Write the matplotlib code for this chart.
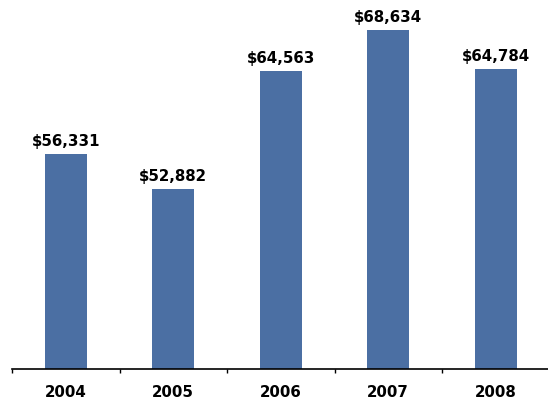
import matplotlib
matplotlib.use("Agg")
import matplotlib.pyplot as plt
import numpy as np

years = ["2004", "2005", "2006", "2007", "2008"]
values = [56331, 52882, 64563, 68634, 64784]

fig = plt.figure(figsize=(5.48, 4.02), dpi=100)
ax = fig.add_axes([12 / 548, 32 / 402, 537.5 / 548, 370 / 402])

x = np.arange(len(years))
bars = ax.bar(x, values, width=0.39, color="#4b6fa3", zorder=2)

for b, v in zip(bars, values):
    ax.annotate(f"${v:,}", (b.get_x() + b.get_width() / 2, v),
                xytext=(0, 4), textcoords="offset points",
                ha="center", va="bottom", fontsize=10.8, fontweight="bold",
                color="black", annotation_clip=False)

ax.set_xlim(-0.5, len(years) - 0.5)
ax.set_ylim(35000, 35000 + 370 * 99.2)

ax.set_xticks(x)
ax.set_xticklabels(years, fontsize=10.8, fontweight="bold")
ax.set_xticks(np.arange(-0.5, len(years)), minor=True)
ax.tick_params(axis="x", which="major", length=0, pad=11)
ax.tick_params(axis="x", which="minor", length=3, width=1, direction="out", color="black")
ax.set_yticks([])

for s in ["top", "right", "left"]:
    ax.spines[s].set_visible(False)
ax.spines["bottom"].set_linewidth(1.2)
ax.spines["bottom"].set_color("black")

fig.savefig("out.png", dpi=100)
